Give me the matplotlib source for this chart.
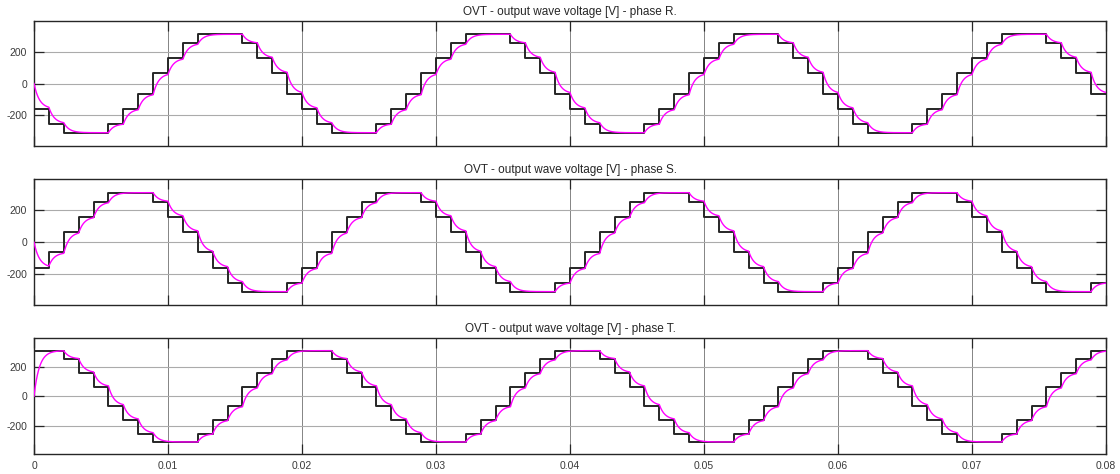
import numpy as np
import matplotlib
matplotlib.use("Agg")
import matplotlib.pyplot as plt

# ---- data ----
period = 0.02                 # s (50 Hz)
steps_per_period = 18         # staircase steps per period
t_end = 0.08                  # s
filter_tau = 0.00040          # s, lag of the filtered (magenta) output

# staircase levels [V] for one period, per step, for each phase
levels_R = [-160, -254, -311, -311, -311, -254, -160, -65, 65,
            160, 254, 311, 311, 311, 254, 160, 65, -65]
levels_S = [-160, -65, 65, 160, 254, 311, 311, 311, 254,
            160, 65, -65, -160, -254, -311, -311, -311, -254]
levels_T = [311, 311, 254, 160, 65, -65, -160, -254, -311,
            -311, -311, -254, -160, -65, 65, 160, 254, 311]

titles = ["OVT - output wave voltage [V] - phase R.",
          "OVT - output wave voltage [V] - phase S.",
          "OVT - output wave voltage [V] - phase T."]
x_ticks = [0, 0.01, 0.02, 0.03, 0.04, 0.05, 0.06, 0.07, 0.08]
x_ticklabels = ["0", "0.01", "0.02", "0.03", "0.04", "0.05", "0.06", "0.07", "0.08"]
y_ticks = [-200, 0, 200]
y_ticklabels = ["-200", "0", "200"]
y_lim = (-395, 395)

# ---- build series ----
dt_step = period / steps_per_period
n_periods = int(round(t_end / period))


def staircase(levels):
    lv = np.tile(np.asarray(levels, float), n_periods)
    edges = np.arange(len(lv) + 1) * dt_step
    return edges, np.append(lv, lv[-1])


def filtered(levels, n_sub=40):
    lv = np.tile(np.asarray(levels, float), n_periods)
    ts, ys = [], []
    y0 = 0.0
    for k, L in enumerate(lv):
        tt = np.linspace(0, dt_step, n_sub, endpoint=False)
        yy = L + (y0 - L) * np.exp(-tt / filter_tau)
        ts.append(k * dt_step + tt)
        ys.append(yy)
        y0 = L + (y0 - L) * np.exp(-dt_step / filter_tau)
    ts.append([len(lv) * dt_step])
    ys.append([y0])
    return np.concatenate(ts), np.concatenate(ys)


plt.rcParams['font.family'] = ['Liberation Sans', 'DejaVu Sans']

fig = plt.figure(figsize=(11.2, 4.74), dpi=100)
W, H = 1120, 474
left_px, right_px = 34, 1106
panels_px = [(21, 146), (179.3, 305), (338.3, 454.3)]

frame_col = '#262626'
for i, (lev, title) in enumerate(zip([levels_R, levels_S, levels_T], titles)):
    top, bot = panels_px[i]
    ax = fig.add_axes([left_px / W, 1 - bot / H, (right_px - left_px) / W, (bot - top) / H])
    ex, ey = staircase(lev)
    ax.step(ex, ey, where='post', color='#262626', lw=1.4, zorder=3)
    fx, fy = filtered(lev)
    ax.plot(fx, fy, color='#ff00ff', lw=1.0, zorder=4)

    ax.set_xlim(0, t_end)
    ax.set_ylim(*y_lim)
    ax.set_xticks(x_ticks)
    ax.set_yticks(y_ticks)
    ax.set_yticklabels(y_ticklabels)
    if i == 2:
        ax.set_xticklabels(x_ticklabels)
    else:
        ax.set_xticklabels([])
    ax.tick_params(direction='in', length=7, width=0.9, color=frame_col,
                   top=True, right=True, labelsize=7.5, labelcolor='#3a3a3a', pad=5)
    ax.grid(axis='y', color='#ababab', lw=0.8, zorder=0)
    ax.grid(axis='x', color='#707070', lw=0.6, zorder=0)
    for sp in ax.spines.values():
        sp.set_color(frame_col)
        sp.set_linewidth(1.0)
    ax.set_title(title, fontsize=8.5, color='#262626', pad=4.5)

fig.savefig('out.png', dpi=100, facecolor='white')
